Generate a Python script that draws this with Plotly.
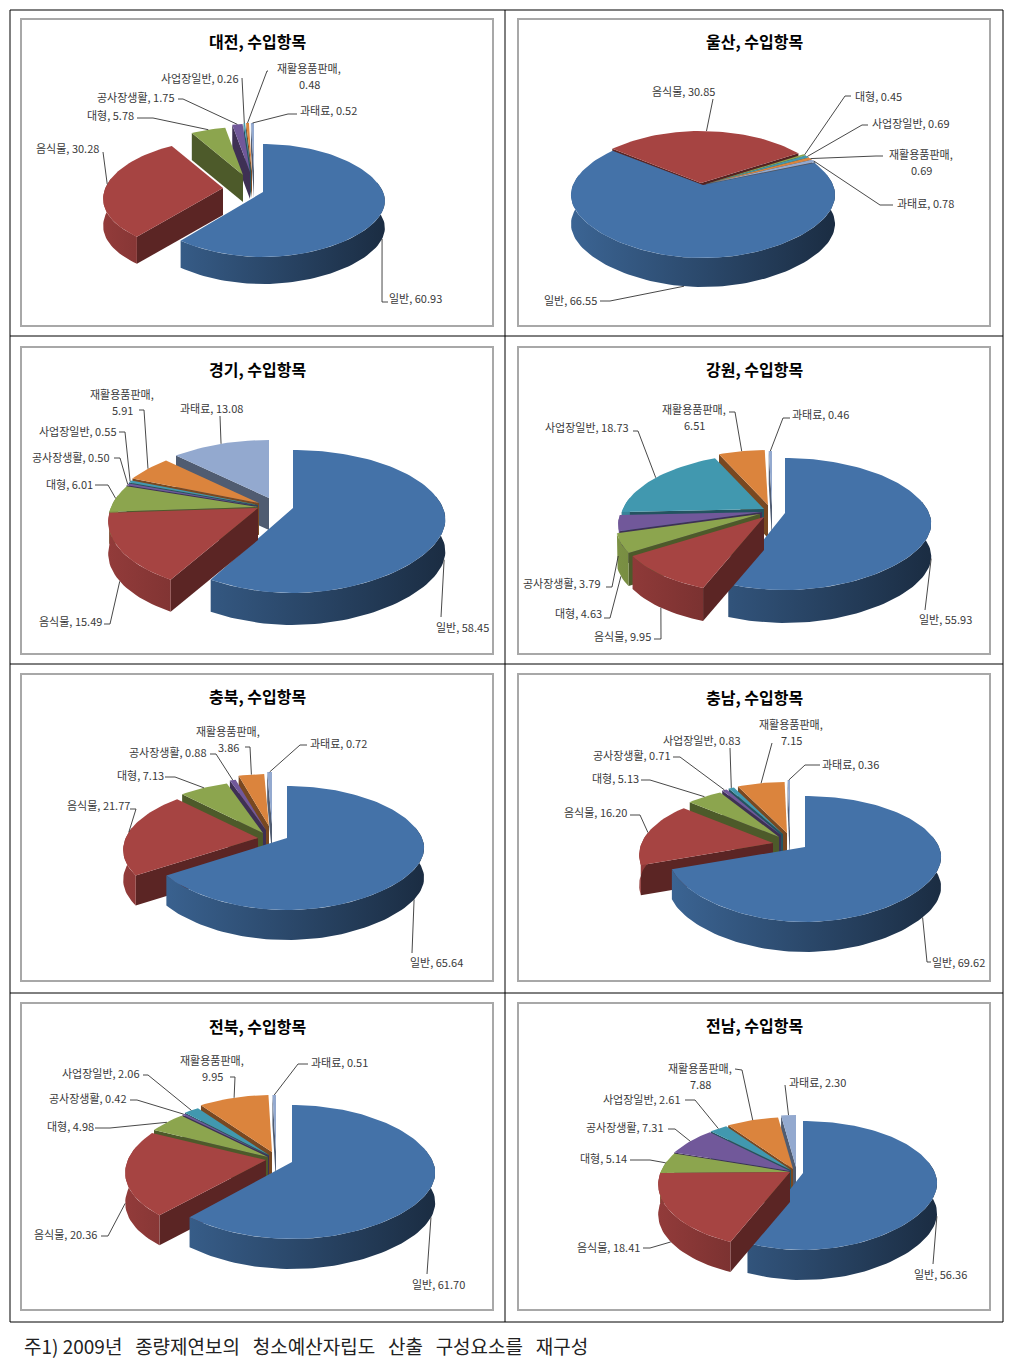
import math
import plotly.graph_objects as go

CATEGORIES = ["일반", "음식물", "대형", "공사장생활", "사업장일반", "재활용품판매", "과태료"]
REGIONS = ["대전", "울산", "경기", "강원", "충북", "충남", "전북", "전남"]
daejeon = [60.93, 30.28, 5.78, 1.75, 0.26, 0.48, 0.52]
ulsan = [66.55, 30.85, 0.45, 0, 0.69, 0.69, 0.78]
gyeonggi = [58.45, 15.49, 6.01, 0.50, 0.55, 5.91, 13.08]
gangwon = [55.93, 9.95, 4.63, 3.79, 18.73, 6.51, 0.46]
chungbuk = [65.64, 21.77, 7.13, 0.88, 0, 3.86, 0.72]
chungnam = [69.62, 16.20, 5.13, 0.71, 0.83, 7.15, 0.36]
jeonbuk = [61.70, 20.36, 4.98, 0.42, 2.06, 9.95, 0.51]
jeonnam = [56.36, 18.41, 5.14, 7.31, 2.61, 7.88, 2.30]
VALUES = [daejeon, ulsan, gyeonggi, gangwon, chungbuk, chungnam, jeonbuk, jeonnam]
FOOTNOTE = "주1) 2009년 종량제연보의 청소예산자립도 산출 구성요소를 재구성"

COLORS = ["#4472A8", "#A64442", "#8CA54E", "#71589A", "#4198AF", "#DB843D", "#93A9CF"]
FONT = "Noto Sans CJK KR"
PERSP = 0.2
PERSP_FIRST_FRONT = 0.12

# pie geometry: cx, cy, rx, back radius, front radius, depth, rotation, slice offsets
PIES = [
    (223, 188, 120, 48, 65, 27, 0, [(40, 4), (0, 0), (20, -13), (27, -16), (28, -17), (29, -17), (31, -17)]),
    (703, 185, 130, 52, 73, 29, 68, [(0, 0), (-2, -2), (3, -1), (3, -1), (3, -1), (3, -1), (3, -1)]),
    (258, 508, 150, 58, 85, 32, 0, [(35, 0), (0, 0), (0, -1), (0, -2), (0, -3), (1, -5), (11, -10)]),
    (760, 514, 144, 55, 77, 33, 0, [(25, -1), (4, 3), (0, 0), (2, -2), (4, -5), (8, -9), (12, -8)]),
    (258, 838, 135, 52, 72, 30, 0, [(29, 0), (0, 0), (5, -5), (8, -8), (8, -8), (11, -12), (14, -14)]),
    (773, 843, 134, 51, 75, 30, 0, [(32, 4), (0, 0), (6, -6), (8, -8), (10, -9), (14, -10), (17, -12)]),
    (266, 1160, 141, 57, 77, 30, 0, [(26, 2), (0, 0), (2, -3), (3, -4), (3, -5), (6, -8), (10, -8)]),
    (790, 1172, 132, 52, 77, 30, 0, [(13, 1), (0, 0), (0, 0), (0, -1), (1, -2), (3, -3), (6, -5)]),
]
# label placement per category: text x, y, leader start x, y, leader elbow x, y
LABELS = [
    [(415, 298, 388, 302, 382, 302), (67, 148, 103, 152, 103, 152), (110, 115, 137, 118, 153, 118),
     (136, 97, 178, 99, 183, 99), (200, 78, 242, 78, 242, 78), (309, 68, 268, 71, 267, 71), (328, 110, 297, 114, 288, 114)],
    [(570, 300, 600, 301, 610, 301), (683, 91, 713, 99, 713, 99), (878, 96, 851, 96, 845, 96), None,
     (911, 123, 868, 125, 862, 125), (921, 154, 883, 156, 876, 156), (925, 203, 893, 205, 880, 205)],
    [(462, 627, 441, 617, 441, 617), (70, 621, 104, 624, 110, 624), (69, 484, 95, 485, 108, 485),
     (71, 457, 114, 458, 120, 458), (78, 431, 119, 432, 125, 432), (122, 394, 139, 410, 144, 410), (211, 408, 220, 416, 220, 416)],
    [(945, 619, 925, 610, 925, 610), (622, 636, 654, 639, 661, 639), (578, 613, 604, 618, 610, 618),
     (562, 583, 606, 587, 612, 587), (587, 427, 633, 431, 638, 431), (694, 409, 729, 412, 735, 412), (820, 414, 790, 418, 783, 418)],
    [(436, 962, 412, 953, 412, 953), (98, 805, 130, 809, 136, 809), (140, 775, 165, 777, 175, 777),
     (168, 752, 210, 754, 216, 754), None, (228, 731, 245, 747, 250, 747), (338, 743, 307, 745, 300, 745)],
    [(958, 962, 931, 962, 927, 962), (595, 812, 630, 815, 640, 815), (615, 778, 641, 780, 650, 780),
     (632, 755, 673, 757, 680, 757), (702, 740, 730, 748, 730, 748), (791, 724, 772, 743, 772, 743), (850, 764, 820, 765, 805, 765)],
    [(438, 1284, 427, 1274, 427, 1274), (65, 1234, 101, 1236, 108, 1236), (70, 1126, 95, 1128, 110, 1128),
     (88, 1098, 130, 1100, 137, 1100), (101, 1073, 143, 1075, 148, 1075), (212, 1060, 230, 1077, 235, 1077), (339, 1062, 308, 1064, 298, 1064)],
    [(940, 1274, 933, 1264, 933, 1264), (608, 1247, 643, 1248, 650, 1248), (603, 1158, 630, 1160, 650, 1160),
     (625, 1127, 668, 1129, 675, 1129), (642, 1099, 685, 1100, 695, 1100), (700, 1068, 735, 1069, 742, 1070), (817, 1082, 785, 1085, 785, 1085)],
]
TITLE_POS = [(257, 41), (754, 41), (257, 369), (754, 369), (257, 696), (754, 697), (257, 1026), (754, 1025)]
FRAMES = [(21, 19), (518, 19), (21, 347), (518, 347), (21, 674), (518, 674), (21, 1003), (518, 1003)]


def shade(hex_color, f):
    r, g, b = (int(hex_color[i:i + 2], 16) for i in (1, 3, 5))
    return f"rgb({int(r * f)},{int(g * f)},{int(b * f)})"


def rim(theta, rx, rb, rf, first=False):
    t = math.radians(theta)
    c = math.cos(t)
    # smooth vertical profile: back radius rb at c=1, front radius rf at c=-1
    y = -((rb + rf) / 2 * c + (rb - rf) / 2 * c * c)
    if first:
        f = 1 - PERSP * c
        if c < 0:
            f -= PERSP_FIRST_FRONT * c * c
        return rx * math.sin(t) * f, y
    return 0.98 * rx * math.sin(t) * (1 - PERSP * c), y


def arc(a, b, rx, rb, rf, first=False):
    n = max(2, int((b - a) / 2) + 1)
    return [rim(a + (b - a) * i / (n - 1), rx, rb, rf, first) for i in range(n)]


def poly(fig, pts, color, gradient=None):
    xs = [p[0] for p in pts] + [pts[0][0]]
    ys = [p[1] for p in pts] + [pts[0][1]]
    kw = dict(fillcolor=color)
    if gradient:
        kw = dict(fillgradient=gradient)
    fig.add_trace(go.Scatter(x=xs, y=ys, mode="lines", fill="toself", line=dict(width=0),
                             hoverinfo="skip", showlegend=False, **kw))


fig = go.Figure()
annotations = []
shapes = []

for (fx, fy) in FRAMES:
    shapes.append(dict(type="rect", xref="x", yref="y", x0=fx, y0=fy, x1=fx + 472, y1=fy + 307,
                       line=dict(color="#A8A8A8", width=2), fillcolor="white", layer="below"))
shapes.append(dict(type="rect", xref="x", yref="y", x0=10, y0=10, x1=1003, y1=1322,
                   line=dict(color="black", width=1), layer="below"))
shapes.append(dict(type="line", xref="x", yref="y", x0=505, y0=10, x1=505, y1=1322,
                   line=dict(color="black", width=1), layer="below"))
for yy in (336, 664, 993):
    shapes.append(dict(type="line", xref="x", yref="y", x0=10, y0=yy, x1=1003, y1=yy,
                       line=dict(color="black", width=1), layer="below"))

for p, region in enumerate(REGIONS):
    cx, cy, rx, rb, rf, depth, rot, offs = PIES[p]
    vals = VALUES[p]
    total = sum(vals)
    slices = []
    ang = rot
    for i, v in enumerate(vals):
        sweep = 360 * v / total
        if v > 0:
            slices.append((i, ang, ang + sweep))
        ang += sweep
    slices.sort(key=lambda s: -math.cos(math.radians((s[1] + s[2]) / 2)))
    leaders = []
    for i, a, b in slices:
        ox, oy = cx + offs[i][0], cy + offs[i][1]
        col = COLORS[i]
        first = i == 0
        place = lambda q, d=0: (ox + q[0], oy + q[1] + d)
        # flat cut faces
        if math.sin(math.radians(a)) < 0:
            e = rim(a, rx, rb, rf, first)
            poly(fig, [place((0, 0)), place(e), place(e, depth), place((0, 0), depth)], shade(col, 0.55))
        if math.sin(math.radians(b)) > 0:
            e = rim(b, rx, rb, rf, first)
            poly(fig, [place((0, 0)), place(e), place(e, depth), place((0, 0), depth)], shade(col, 0.5))
        # curved outer wall
        for k in (0, 360):
            wa, wb = max(a, 80 + k), min(b, 280 + k)
            if wb > wa:
                top = arc(wa, wb, rx, rb, rf, first)
                pts = [place(q) for q in top] + [place(q, depth) for q in reversed(top)]
                poly(fig, pts, None, gradient=dict(
                    type="horizontal", start=ox - rx, stop=ox + rx,
                    colorscale=[[0, shade(col, 0.88)], [1, shade(col, 0.4)]]))
        # top surface
        poly(fig, [place((0, 0))] + [place(q) for q in arc(a, b, rx, rb, rf, first)], col)
        # label and leader line
        spec = LABELS[p][i]
        if spec:
            lx, ly, x0, y0, x1, y1 = spec
            mid = (a + b) / 2
            end = place(rim(mid, rx, rb, rf, first), depth if math.cos(math.radians(mid)) < -0.15 else 0)
            leaders.append(([x0, x1, end[0]], [y0, y1, end[1]]))
            name = CATEGORIES[i]
            num = f"{vals[i]:.2f}"
            font = dict(family=FONT, size=11, color="#3A3A3A")
            if len(name) >= 6:
                annotations.append(dict(x=lx, y=ly, text=name + ",", font=font))
                annotations.append(dict(x=lx, y=ly + 16, text=num, font=font))
            else:
                annotations.append(dict(x=lx, y=ly, text=f"{name}, {num}", font=font))
    for xs, ys in leaders:
        fig.add_trace(go.Scatter(x=xs, y=ys, mode="lines", line=dict(color="#333333", width=0.9),
                                 hoverinfo="skip", showlegend=False))
    tx, ty = TITLE_POS[p]
    annotations.append(dict(x=tx, y=ty, text=f"<b>{region}, 수입항목</b>",
                            font=dict(family=FONT, size=16, color="black")))

for an in annotations:
    an.update(xref="x", yref="y", showarrow=False, xanchor="center", yanchor="middle")
annotations.append(dict(x=22, y=1345, xref="x", yref="y",
                        text=FOOTNOTE.replace(" ", "\u00a0\u00a0\u00a0").replace("주1)\u00a0\u00a0\u00a0", "주1) "),
                        showarrow=False, xanchor="left", yanchor="middle",
                        font=dict(family=FONT, size=19, color="#222222")))

fig.update_layout(
    width=1020, height=1361, margin=dict(l=0, r=0, t=0, b=0),
    paper_bgcolor="white", plot_bgcolor="white", showlegend=False,
    xaxis=dict(range=[0, 1020], visible=False, fixedrange=True),
    yaxis=dict(range=[1361, 0], visible=False, fixedrange=True),
    shapes=shapes, annotations=annotations,
)
fig.write_html("out.html", config=dict(displayModeBar=False),
               post_script="document.body.style.margin='0';document.body.style.overflow='hidden';")
